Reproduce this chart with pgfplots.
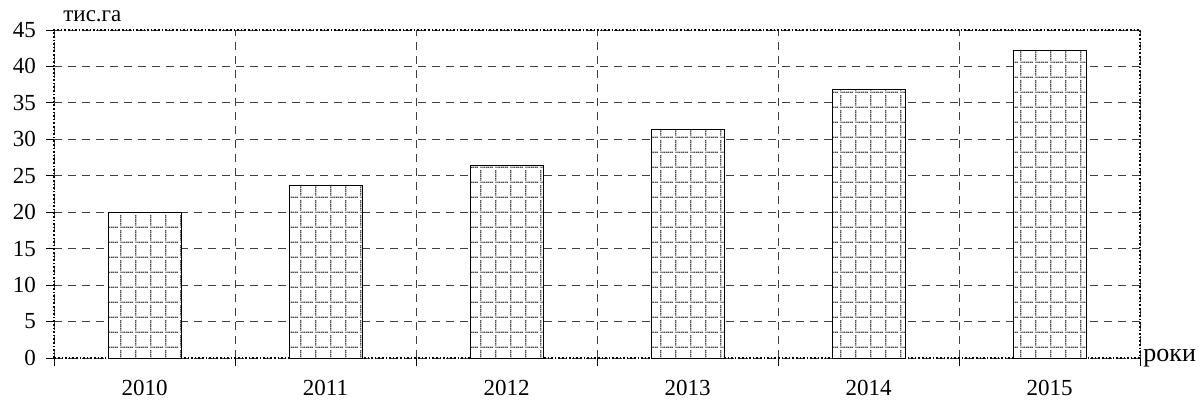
\documentclass[border=0pt]{standalone}
\usepackage{fontspec}
\setmainfont{Liberation Serif}
\usepackage{pgfplots}
\pgfplotsset{compat=1.18}
\usetikzlibrary{patterns}

% dotted grid used inside the bars
\pgfdeclarepatternformonly{dotgrid}{\pgfpointorigin}{\pgfqpoint{7.5pt}{7.5pt}}{\pgfqpoint{7.5pt}{7.5pt}}{%
  \pgfpathrectangle{\pgfqpoint{0.2pt}{0pt}}{\pgfqpoint{0.7pt}{0.7pt}}%
  \pgfpathrectangle{\pgfqpoint{1.2pt}{0pt}}{\pgfqpoint{0.7pt}{0.7pt}}%
  \pgfpathrectangle{\pgfqpoint{2.2pt}{0pt}}{\pgfqpoint{0.7pt}{0.7pt}}%
  \pgfpathrectangle{\pgfqpoint{3.2pt}{0pt}}{\pgfqpoint{0.7pt}{0.7pt}}%
  \pgfpathrectangle{\pgfqpoint{4.2pt}{0pt}}{\pgfqpoint{0.7pt}{0.7pt}}%
  \pgfpathrectangle{\pgfqpoint{5.2pt}{0pt}}{\pgfqpoint{0.7pt}{0.7pt}}%
  \pgfpathrectangle{\pgfqpoint{6.2pt}{0pt}}{\pgfqpoint{0.7pt}{0.7pt}}%
  \pgfpathrectangle{\pgfqpoint{0pt}{1.2pt}}{\pgfqpoint{0.7pt}{0.7pt}}%
  \pgfpathrectangle{\pgfqpoint{0pt}{2.2pt}}{\pgfqpoint{0.7pt}{0.7pt}}%
  \pgfpathrectangle{\pgfqpoint{0pt}{3.2pt}}{\pgfqpoint{0.7pt}{0.7pt}}%
  \pgfpathrectangle{\pgfqpoint{0pt}{4.2pt}}{\pgfqpoint{0.7pt}{0.7pt}}%
  \pgfpathrectangle{\pgfqpoint{0pt}{5.2pt}}{\pgfqpoint{0.7pt}{0.7pt}}%
  \pgfpathrectangle{\pgfqpoint{0pt}{6.2pt}}{\pgfqpoint{0.7pt}{0.7pt}}%
  \pgfusepath{fill}%
}

\pgfplotstableread{
x    y
0.5  20.0
1.5  23.7
2.5  26.4
3.5  31.4
4.5  36.8
5.5  42.2
}\areadata

\begin{document}
\fontsize{11.5}{13.5}\selectfont
\begin{tikzpicture}
  \begin{axis}[
      scale only axis,
      width=543pt,
      height=164pt,
      xmin=0, xmax=6,
      ymin=0, ymax=45,
      ytick={0,5,...,45},
      xtick={0.5,1.5,...,5.5},
      xticklabels={2010,2011,2012,2013,2014,2015},
      minor xtick={0,1,...,6},
      major x tick style={draw=none},
      tick align=outside,
      major tick length=4pt,
      minor tick length=4pt,
      tick style={black, thin},
      xtick pos=bottom, ytick pos=left,
      ymajorgrids=true,
      xminorgrids=true,
      grid style={black!75, dash pattern=on 4pt off 3pt, thin},
      minor grid style={black!75, dash pattern=on 4pt off 3pt, thin},
      axis line style={black, densely dotted, thick},
      yticklabel style={xshift=-1pt},
      xticklabel style={yshift=-3pt},
      /pgf/number format/assume math mode=true,
      clip=false,
    ]
    \addplot[ybar, bar width=36.5pt, draw=black, fill=white,
             postaction={pattern=dotgrid, pattern color=black!70}]
      table[x=x, y=y] {\areadata};
    \node[anchor=south west, inner sep=0pt] at ([xshift=4.5pt,yshift=4pt]rel axis cs:0,1) {тис.га};
    \node[anchor=west, inner sep=0pt, font=\fontsize{13}{15}\selectfont] at ([xshift=1.5pt]rel axis cs:1,0) {роки};
    \coordinate (ll) at (rel axis cs:0,0);
    \coordinate (ur) at (rel axis cs:1,1);
  \end{axis}
  \pgfresetboundingbox
  \path[use as bounding box] ([shift={(-27pt,-24.5pt)}]ll) rectangle ([shift={(31.5pt,15pt)}]ur);
\end{tikzpicture}
\end{document}
